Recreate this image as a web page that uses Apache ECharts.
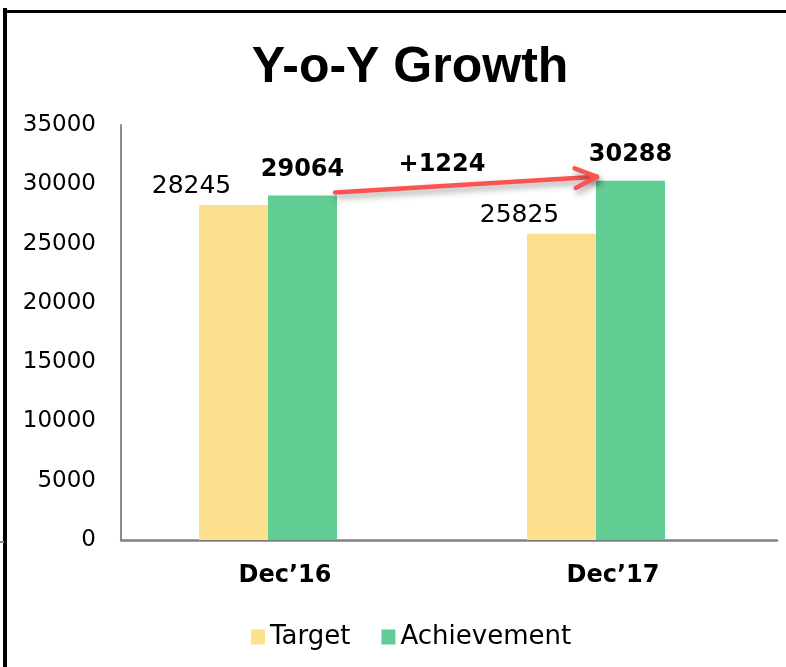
<!DOCTYPE html>
<html>
<head>
<meta charset="utf-8">
<title>Y-o-Y Growth</title>
<script src="https://cdn.jsdelivr.net/npm/echarts@6/dist/echarts.min.js"></script>
<style>
  html, body { margin: 0; padding: 0; background: #fff; }
  #main { width: 786px; height: 667px; }
</style>
</head>
<body>
<div id="main"></div>
<script>
// data
var categories = ['Dec\u201916', 'Dec\u201917'];
var target = [28245, 25825];
var achievement = [29064, 30288];
var yTicks = [0, 5000, 10000, 15000, 20000, 25000, 30000, 35000];

var chart = echarts.init(document.getElementById('main'));

chart.setOption({
  animation: false,
  title: {
    text: 'Y-o-Y Growth',
    left: 405,
    textAlign: 'center',
    top: 38,
    textStyle: { fontFamily: 'Liberation Sans', fontWeight: 'bold', fontSize: 50, color: '#000' }
  },
  legend: {
    data: ['Target', 'Achievement'],
    left: 246,
    top: 619,
    itemWidth: 14,
    itemHeight: 15,
    itemGap: 31,
    icon: 'rect',
    textStyle: { fontFamily: 'DejaVu Sans', fontSize: 26, color: '#000' }
  },
  grid: { left: 121, right: 9, top: 125, bottom: 127 },
  xAxis: {
    type: 'category',
    data: categories,
    axisTick: { show: false },
    axisLine: { lineStyle: { color: '#808080', width: 2.5 } },
    axisLabel: {
      margin: 24,
      fontFamily: 'DejaVu Sans', fontWeight: 'bold', fontSize: 24, color: '#000'
    }
  },
  yAxis: {
    type: 'value',
    min: yTicks[0],
    max: yTicks[yTicks.length - 1],
    interval: 5000,
    splitLine: { show: false },
    axisTick: { show: false },
    axisLine: { show: true, lineStyle: { color: '#8c8c8c', width: 2 } },
    axisLabel: {
      margin: 25, fontFamily: 'DejaVu Sans', fontSize: 23, color: '#000',
      formatter: function (v) { return String(v); }
    }
  },
  series: [
    {
      name: 'Target',
      type: 'bar',
      data: target,
      barWidth: 69,
      barGap: 0,
      itemStyle: { color: '#fde08d' },
      label: {
        show: true, position: 'top', distance: 6, offset: [-42, 0],
        fontFamily: 'DejaVu Sans', fontSize: 25, color: '#000'
      }
    },
    {
      name: 'Achievement',
      type: 'bar',
      data: achievement,
      barWidth: 69,
      barGap: 0,
      itemStyle: { color: '#62cd93' },
      label: {
        show: true, position: 'top', distance: 14,
        fontFamily: 'DejaVu Sans', fontWeight: 'bold', fontSize: 24, color: '#000'
      }
    },
    {
      // empty spacer so the pair sits left of the category centre, as in Excel
      name: 'pad',
      type: 'bar',
      data: categories.map(function () { return '-'; }),
      barWidth: 34,
      barGap: 0,
      silent: true,
      itemStyle: { color: 'rgba(0,0,0,0)' }
    }
  ]
});

// growth arrow from the top of the first achievement bar to the second
var achData = chart.getModel().getSeriesByIndex(1).getData();
var a = achData.getItemLayout(0);
var b = achData.getItemLayout(1);
var aTop = Math.min(a.y, a.y + a.height);
var bTop = Math.min(b.y, b.y + b.height);
var p0 = [a.x + a.width - 2, aTop - 3];
var p1 = [b.x + 1, bTop - 4];
var ang = Math.atan2(p1[1] - p0[1], p1[0] - p0[0]);
var armLen = 24, armAng = 0.42;
var arm1 = [p1[0] - armLen * Math.cos(ang - armAng), p1[1] - armLen * Math.sin(ang - armAng)];
var arm2 = [p1[0] - armLen * Math.cos(ang + armAng), p1[1] - armLen * Math.sin(ang + armAng)];
var mid = [(p0[0] + p1[0]) / 2, (p0[1] + p1[1]) / 2];
var growth = achievement[1] - achievement[0];
var arrowStyle = {
  stroke: '#fb5252', lineWidth: 4.5, lineCap: 'round', lineJoin: 'round', fill: null,
  shadowBlur: 6, shadowOffsetX: 2, shadowOffsetY: 4, shadowColor: 'rgba(0,0,0,0.35)'
};

chart.setOption({
  graphic: [
    // frame
    { type: 'line', shape: { x1: 5, y1: 8, x2: 5, y2: 667 }, style: { stroke: '#000', lineWidth: 4 } },
    { type: 'line', shape: { x1: 4, y1: 11.5, x2: 786, y2: 11.5 }, style: { stroke: '#000', lineWidth: 3 } },
    { type: 'line', shape: { x1: 0, y1: 542, x2: 4, y2: 542 }, style: { stroke: '#888', lineWidth: 2 } },
    // arrow
    { type: 'line', shape: { x1: p0[0], y1: p0[1], x2: p1[0], y2: p1[1] }, style: arrowStyle, z: 10 },
    { type: 'polyline', shape: { points: [arm1, p1, arm2] }, style: arrowStyle, z: 10 },
    {
      type: 'text', x: mid[0] - 24, y: mid[1] - 20, z: 10,
      style: {
        text: '+' + growth, align: 'center', verticalAlign: 'middle',
        font: 'bold 24px "DejaVu Sans"', fill: '#000'
      }
    }
  ]
});
</script>
</body>
</html>
